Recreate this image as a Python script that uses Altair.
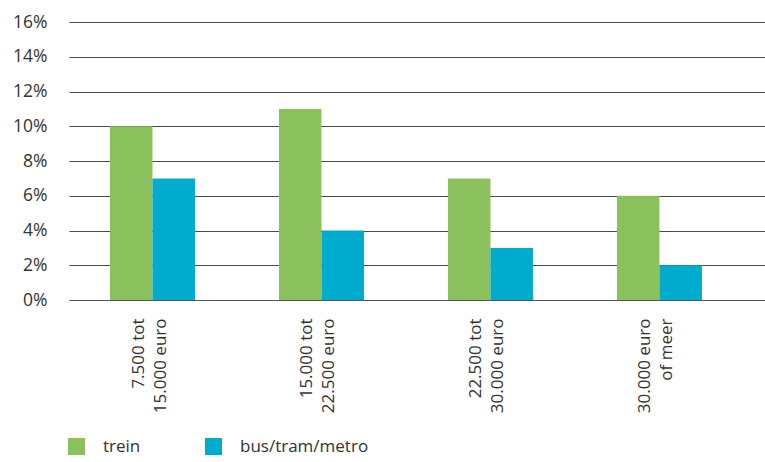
import altair as alt
import pandas as pd

categories = ["7.500 tot|15.000 euro", "15.000 tot|22.500 euro", "22.500 tot|30.000 euro", "30.000 euro|of meer"]
trein = [10, 11, 7, 6]
bus = [7, 4, 3, 2]
series = ["trein", "bus/tram/metro"]
colors = ["#8BC15C", "#00ACCD"]

rows = []
for c, t, b in zip(categories, trein, bus):
    rows.append({"cat": c, "serie": series[0], "val": t / 100})
    rows.append({"cat": c, "serie": series[1], "val": b / 100})
df = pd.DataFrame(rows)

FONT = "Open Sans"

chart = alt.Chart(df).mark_bar().encode(
    x=alt.X("cat:N", sort=categories, title=None,
            scale=alt.Scale(paddingInner=0.497, paddingOuter=0.308, align=0.394),
            axis=alt.Axis(labelAngle=270, labelAlign="right", labelBaseline="middle",
                          labelExpr="split(datum.label, '|')", labelLineHeight=22,
                          labelOffset=-14,
                          labelPadding=18, ticks=False, domain=True, domainColor="#555555",
                          labelFont=FONT, labelFontSize=17, labelColor="#333333")),
    xOffset=alt.XOffset("serie:N", sort=series),
    y=alt.Y("val:Q", title=None,
            scale=alt.Scale(domain=[0, 0.16]),
            axis=alt.Axis(values=[0, 0.02, 0.04, 0.06, 0.08, 0.10, 0.12, 0.14, 0.16],
                          format=".0%", domain=False, ticks=False, labelPadding=22,
                          grid=True, gridColor="#4a4a4a", gridWidth=1,
                          labelFont=FONT, labelFontSize=17.5, labelColor="#333333")),
    color=alt.Color("serie:N", sort=series,
                    scale=alt.Scale(domain=series, range=colors),
                    legend=alt.Legend(title=None, orient="none", direction="horizontal",
                                      legendX=-1, legendY=416, symbolType="square",
                                      symbolSize=289, symbolStrokeWidth=0, labelOffset=18,
                                      columnPadding=64, labelFont=FONT, labelFontSize=17,
                                      labelColor="#333333", symbolOpacity=1)),
).properties(
    width=696, height=278,
    autosize=alt.AutoSizeParams(type="none"),
    padding={"left": 69, "top": 22, "right": 0, "bottom": 162},
).configure_view(stroke=None).configure_axis(gridOpacity=1)

chart.save("out.html", embed_options={"renderer": "svg", "actions": False})
